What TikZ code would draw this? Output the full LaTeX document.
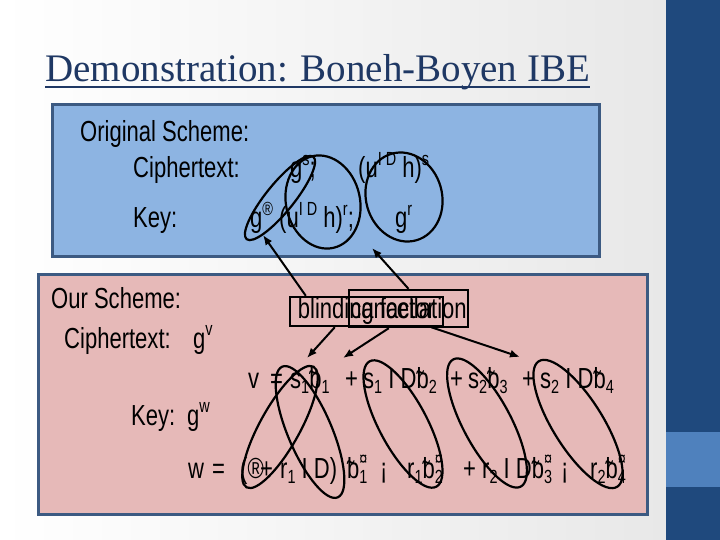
\documentclass[tikz,border=0pt]{standalone}
\usepackage{fontspec}
\usetikzlibrary{arrows.meta}
\newfontfamily\bodyfont{Liberation Sans}[FakeStretch=0.76]
\newfontfamily\titlefont{Liberation Serif}
\definecolor{titleblue}{RGB}{31,56,100}
\definecolor{stripblue}{RGB}{31,73,125}
\definecolor{bandblue}{RGB}{79,129,189}
\definecolor{upperfill}{RGB}{141,180,226}
\definecolor{lowerfill}{RGB}{230,185,184}
\definecolor{panelrim}{RGB}{60,90,130}
\newcommand\sps[1]{\raisebox{0.42em}{\fontsize{19}{20}\selectfont #1}}
\newcommand\sbs[1]{\raisebox{-0.2em}{\fontsize{19}{20}\selectfont #1}}
\newcommand\btil{\rlap{\raisebox{-0.12em}{\char"02DC}}b}
\newcommand\bst[1]{\btil\rlap{\sps{¤}}\sbs{#1}}
\begin{document}
\begin{tikzpicture}[x=1pt,y=-1pt,
	txt/.style={anchor=base west, inner sep=0pt, font=\bodyfont\fontsize{29}{32}\selectfont},
	tagbox/.style={draw, line width=2.4pt, inner sep=1pt, font=\bodyfont\fontsize{29}{32}\selectfont},
	panel/.style={draw=panelrim, line width=3pt},
	ring/.style={draw, line width=2.2pt},
	ptr/.style={line width=2pt, -{Latex[length=10pt,width=8pt]}}]
	\useasboundingbox (0,0) rectangle (720,540);
	% slide background
	\shade[left color=white, right color=black!9] (0,0) rectangle (666,540);
	\fill[stripblue] (666,0) rectangle (720,540);
	\fill[bandblue] (666,432) rectangle (720,487);
	\node[anchor=base west, inner sep=0pt, text=titleblue, font=\titlefont\fontsize{39}{44}\selectfont] (title) at (45,82) {Demonstration: Boneh-Boyen IBE};
	\draw[titleblue, line width=1.8pt] ([yshift=-5pt]title.base west) -- ([yshift=-5pt]title.base east);
	% panels
	\draw[panel, fill=upperfill] (52.5,104.5) rectangle (599.5,256.5);
	\draw[panel, fill=lowerfill] (38.5,274.5) rectangle (647.5,514.5);
	% original scheme
	\node[txt] (orig) at (80,142) {Original Scheme:};
	\node[txt] (octxt) at (133,178) {Ciphertext:};
	\node[txt] (ogs) at (290,178) {g\sps{s};};
	\node[txt] (ouh) at (358,178) {(u\sps{I D} h)\sps{s}};
	\node[txt] (okey) at (133,228) {Key:};
	\node[txt] (okone) at (250,228) {g\sps{®} (u\sps{I D} h)\sps{r};};
	\node[txt] (oktwo) at (395,228) {g\sps{r}};
	% our scheme
	\node[txt] (ours) at (51,308) {Our Scheme:};
	\node[txt] (nctxt) at (64,348) {Ciphertext:};
	\node[txt] (ngv) at (193,348) {g\sps{v}};
	\node[txt] (nkey) at (131,425) {Key:};
	\node[txt] (ngw) at (187,425) {g\sps{w}};
	\foreach \px/\bit [count=\i] in {248/v, 270/=, 290/{s\sbs1\btil\sbs1}, 345/+, 363/{s\sbs1 I D\btil\sbs2}, 450/+, 468/{s\sbs2\btil\sbs3}, 522/+, 540/{s\sbs2 I D\btil\sbs4}}
		\node[txt] (v\i) at (\px,388) {\bit};
	\foreach \px/\bit [count=\i] in {188/w, 212/=, 240/{(®}, 260/+, 280/{r\sbs1 I D)}, 347/{\bst1}, 380/{¡}, 407/{r\sbs1\bst2}, 463/+, 482/{r\sbs2 I D\bst3}, 561/{¡}, 590/{r\sbs2\bst4}}
		\node[txt] (w\i) at (\px,478) {\bit};
	% labels
	\node[tagbox, minimum width=153pt, minimum height=29pt] (blind) at (366.5,311.5) {blinding factor};
	\node[tagbox, minimum width=119pt, minimum height=37pt] (cancel) at (408.5,308.5) {cancellation};
	% circled terms
	\draw[ring] (280,198) ellipse[x radius=53, y radius=14, rotate=51];
	\draw[ring] (323,202) ellipse[x radius=47, y radius=37, rotate=-77];
	\draw[ring] (404,197) ellipse[x radius=45, y radius=38, rotate=-74];
	\draw[ring] (280,427) ellipse[x radius=69, y radius=20, rotate=61];
	\draw[ring] (310,432) ellipse[x radius=71, y radius=22, rotate=-67];
	\draw[ring] (403,424) ellipse[x radius=71, y radius=24, rotate=-62];
	\draw[ring] (487,423) ellipse[x radius=72, y radius=24, rotate=-62];
	\draw[ring] (578,424) ellipse[x radius=74, y radius=25, rotate=-58];
	% arrows
	\coordinate (keyend) at (263,235);
	\coordinate (pairend) at (372,248);
	\coordinate (sone) at (307,358);
	\coordinate (sid) at (343,358);
	\coordinate (stwo) at (520,357);
	\draw[ptr] ([xshift=17pt]blind.north west) -- (keyend);
	\draw[ptr] (cancel.north) -- (pairend);
	\draw[ptr] ([xshift=46pt]blind.south west) -- (sone);
	\draw[ptr] ([xshift=41pt]cancel.south west) -- (sid);
	\draw[ptr] ([xshift=-13pt]blind.south east) -- (stwo);
\end{tikzpicture}
\end{document}
